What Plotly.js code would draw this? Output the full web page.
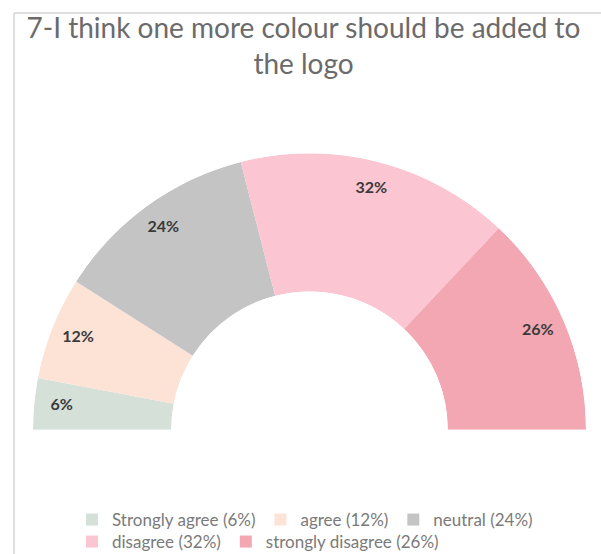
<!DOCTYPE html>
<html>
<head>
<meta charset="utf-8">
<script src="https://cdn.plot.ly/plotly-3.0.1.min.js"></script>
<style>
  html, body { margin: 0; padding: 0; background: #ffffff; }
  #chart { width: 601px; height: 554px; }
</style>
</head>
<body>
<div id="chart"></div>
<script>
// ---- data ----
const categories = ['Strongly agree', 'agree', 'neutral', 'disagree', 'strongly disagree'];
const values = [6, 12, 24, 32, 26];
const titleText = '7-I think one more colour should be added to<br>the logo';

// ---- styles ----
const colors = ['#d4e0d8', '#fde2d6', '#c4c4c4', '#fbc5d2', '#f2a7b3'];

const total = values.reduce((a, b) => a + b, 0);
const degPer = 180 / total;

const traces = [];
let cum = 0;
const mids = [];
values.forEach((v, i) => {
  const mid = (cum + v / 2) * degPer;
  mids.push(mid);
  traces.push({
    type: 'barpolar',
    r: [1],
    theta: [mid],
    width: [v * degPer],
    name: categories[i] + ' (' + v + '%)',
    marker: { color: colors[i], line: { width: 0 } },
    hoverinfo: 'name',
    legend: i < 3 ? 'legend' : 'legend2'
  });
  cum += v;
});

traces.push({
  type: 'scatterpolar',
  mode: 'text',
  r: values.map(() => 0.8),
  theta: mids,
  text: values.map(v => v + '%'),
  textfont: { family: 'Lato, sans-serif', size: 16, color: '#3a3a3a', weight: 'bold' },
  showlegend: false,
  hoverinfo: 'skip'
});

const W = 601, H = 554;
const px = x => x / W;
const py = y => (H - y) / H;

const layout = {
  width: W,
  height: H,
  margin: { l: 0, r: 0, t: 0, b: 0, pad: 0, autoexpand: false },
  paper_bgcolor: '#ffffff',
  font: { family: 'Lato, sans-serif', color: '#777777' },
  title: {
    text: titleText,
    font: { family: 'Lato, sans-serif', size: 28, color: '#6b6b6b' },
    x: 0.505,
    xanchor: 'center',
    xref: 'paper',
    y: py(38),
    yref: 'container',
    yanchor: 'top'
  },
  polar: {
    domain: { x: [px(33), px(586)], y: [py(430), py(153)] },
    sector: [0, 180],
    hole: 0.5,
    bgcolor: 'rgba(0,0,0,0)',
    bargap: 0,
    radialaxis: { visible: false, range: [0, 1] },
    angularaxis: { visible: false, rotation: 180, direction: 'clockwise' }
  },
  legend: {
    orientation: 'h',
    x: px(72), xanchor: 'left',
    y: py(520), yanchor: 'middle',
    font: { family: 'Lato, sans-serif', size: 17, color: '#7a7a7a' },
    bgcolor: 'rgba(0,0,0,0)'
  },
  legend2: {
    orientation: 'h',
    x: px(72), xanchor: 'left',
    y: py(542), yanchor: 'middle',
    font: { family: 'Lato, sans-serif', size: 17, color: '#7a7a7a' },
    bgcolor: 'rgba(0,0,0,0)'
  },
  shapes: [
    { type: 'line', xref: 'paper', yref: 'paper', x0: px(14), x1: px(14), y0: py(13), y1: 0,
      line: { color: '#d4d4d4', width: 1.5 } },
    { type: 'line', xref: 'paper', yref: 'paper', x0: px(14), x1: 1, y0: py(13), y1: py(13),
      line: { color: '#d4d4d4', width: 1.5 } }
  ],
  showlegend: true
};

Plotly.newPlot('chart', traces, layout, { displayModeBar: false });
</script>
</body>
</html>
